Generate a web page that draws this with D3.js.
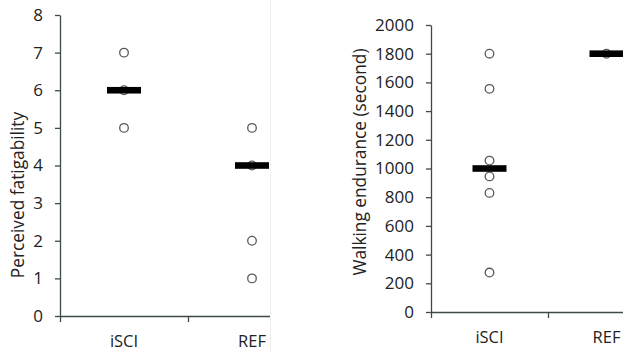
<!DOCTYPE html>
<meta charset="utf-8">
<style>
body{margin:0;background:#fff;}
text{font-family:"Open Sans",sans-serif;fill:#222;}
.axis path,.axis line{stroke:#3f4a40;stroke-width:1.3px;}
.axis text{font-size:17px;fill:#222;font-family:"Open Sans",sans-serif;}
.pt{fill:#fff;stroke:#555d55;stroke-width:1.3px;}
.med{fill:#000;}
</style>
<body>
<script src="https://cdn.jsdelivr.net/npm/d3@7"></script>
<script>

var groups=['iSCI','REF'];

// left panel : perceived fatigability
var fatigueISCI=[7,6,5];
var fatigueREF=[5,4,2,1];
var fatigueMedian=[6,4];
var fatigueTicks=[0,1,2,3,4,5,6,7,8];

// right panel : walking endurance (s)
var walkISCI=[1800,1555,1055,945,830,275];
var walkREF=[1800];
var walkMedian=[1000,1800];
var walkTicks=[0,200,400,600,800,1000,1200,1400,1600,1800,2000];

var svg=d3.select("body").append("svg").attr("width",623).attr("height",353);

var defs=svg.append("defs");
defs.append("clipPath").attr("id","clipL").append("rect")
	.attr("x",0).attr("y",0).attr("width",270).attr("height",353);

function panel(o){
	var g=svg.append("g").attr("clip-path",o.clip?"url(#"+o.clip+")":null);

	var y=d3.scaleLinear().domain([o.ticks[0],o.ticks[o.ticks.length-1]]).range([o.y0,o.y1]);
	var x=d3.scaleBand().domain(groups).range([o.x0,o.x1]);
	var xb=d3.scaleLinear().domain([0,groups.length]).range([o.x0,o.x1]);

	g.append("g").attr("class","axis").attr("transform","translate(0,"+o.y0+")")
		.call(d3.axisBottom(xb).tickValues([0,1]).tickSize(6).tickSizeOuter(0).tickFormat(""));

	g.append("g").attr("class","axis").attr("transform","translate("+o.x0+",0)")
		.call(d3.axisLeft(y).tickValues(o.ticks).tickSize(5).tickSizeOuter(0).tickPadding(12)
			.tickFormat(d3.format("d")));

	g.selectAll(".xl").data(groups).enter().append("text")
		.attr("x",d=>x(d)+x.bandwidth()/2).attr("y",o.y0+31)
		.attr("text-anchor","middle").style("font-size","16.5px").text(d=>d);

	var pts=[];
	o.series.forEach(function(s,i){ s.forEach(v=>pts.push({g:groups[i],v:v})); });

	g.selectAll(".pt").data(pts).enter().append("circle").attr("class","pt")
		.attr("cx",d=>x(d.g)+x.bandwidth()/2).attr("cy",d=>y(d.v)).attr("r",4.3);

	g.selectAll(".med").data(o.median).enter().append("rect").attr("class","med")
		.attr("x",(d,i)=>x(groups[i])+x.bandwidth()/2-17).attr("y",d=>y(d)-3.3)
		.attr("width",34).attr("height",6.6);

	svg.append("text").attr("transform","translate("+o.lx+","+o.ly+") rotate(-90)")
		.attr("text-anchor","middle").style("font-size","17.3px").text(o.label);
}

panel({x0:60,x1:316,y0:316,y1:15,ticks:fatigueTicks,series:[fatigueISCI,fatigueREF],
	median:fatigueMedian,label:"Perceived fatigability",lx:24,ly:195,clip:"clipL"});

panel({x0:431,x1:665,y0:312,y1:25,ticks:walkTicks,series:[walkISCI,walkREF],
	median:walkMedian,label:"Walking endurance (second)",lx:366,ly:162});

svg.append("line").attr("x1",270.5).attr("x2",270.5).attr("y1",0).attr("y2",353)
	.style("stroke","#f0f0f0");
</script>
</body>
